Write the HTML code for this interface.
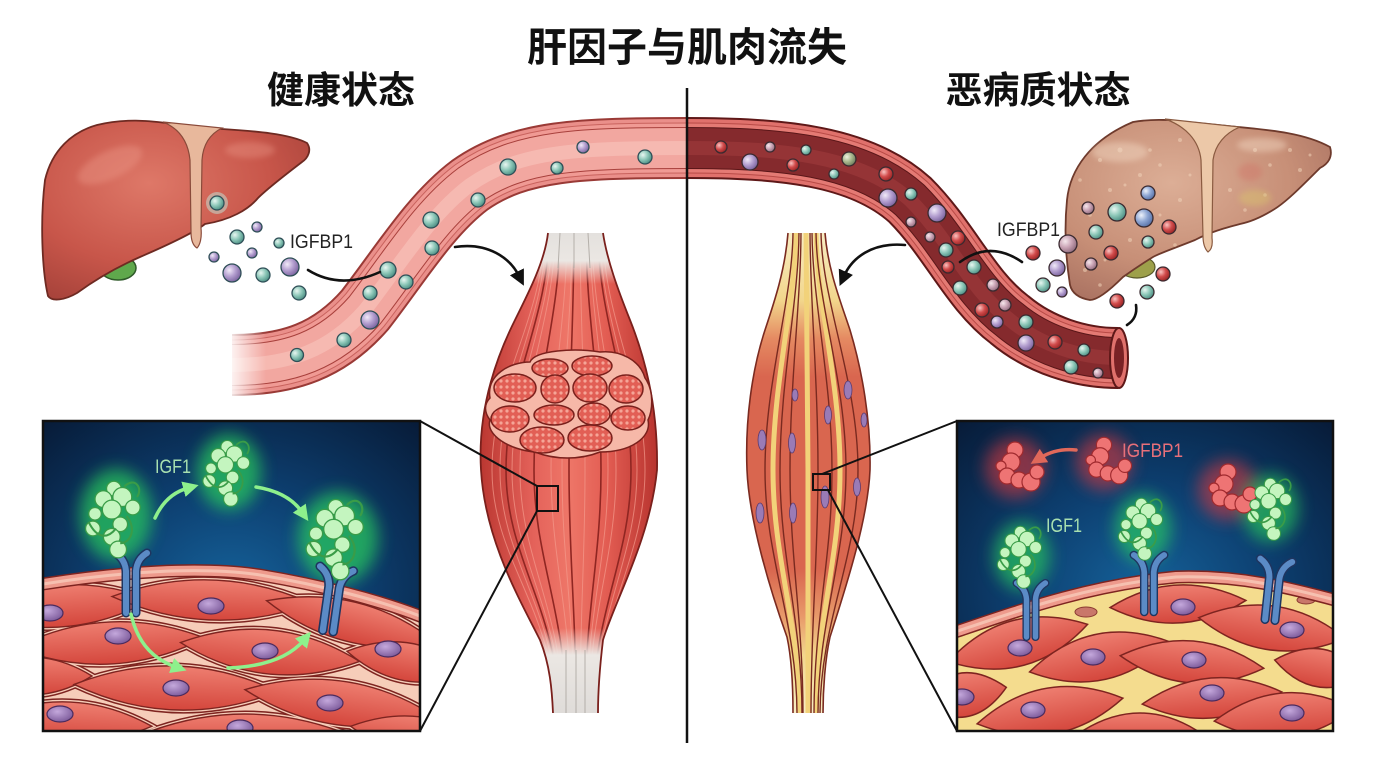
<!DOCTYPE html>
<html><head><meta charset="utf-8"><style>
html,body{margin:0;padding:0;background:#fff;}
svg{display:block;}
.cjk{font-family:"Liberation Sans","Noto Sans CJK SC",sans-serif;}
.lat{font-family:"Liberation Sans",sans-serif;}
</style></head><body>
<svg width="1376" height="768" viewBox="0 0 1376 768" xmlns="http://www.w3.org/2000/svg">
<defs>
<radialGradient id="gTeal" cx=".35" cy=".35" r=".7"><stop offset="0" stop-color="#e8f6f1"/><stop offset=".5" stop-color="#8ec8b9"/><stop offset="1" stop-color="#4a8d82"/></radialGradient>
<radialGradient id="gPurple" cx=".35" cy=".35" r=".7"><stop offset="0" stop-color="#f1eaf8"/><stop offset=".5" stop-color="#b39ecf"/><stop offset="1" stop-color="#7a629e"/></radialGradient>
<radialGradient id="gBlue" cx=".35" cy=".35" r=".7"><stop offset="0" stop-color="#eef2fa"/><stop offset=".5" stop-color="#8fa7d4"/><stop offset="1" stop-color="#5670a6"/></radialGradient>
<radialGradient id="gRed" cx=".35" cy=".35" r=".7"><stop offset="0" stop-color="#f9c4c2"/><stop offset=".5" stop-color="#d24c4c"/><stop offset="1" stop-color="#962222"/></radialGradient>
<radialGradient id="gPink" cx=".35" cy=".35" r=".7"><stop offset="0" stop-color="#f6e8ec"/><stop offset=".5" stop-color="#caa4b5"/><stop offset="1" stop-color="#8e6a7c"/></radialGradient>
<radialGradient id="gOlive" cx=".35" cy=".35" r=".7"><stop offset="0" stop-color="#eef2e0"/><stop offset=".5" stop-color="#a9b88e"/><stop offset="1" stop-color="#6a7a5a"/></radialGradient>
<radialGradient id="liverL" cx=".4" cy=".35" r=".75"><stop offset="0" stop-color="#de7868"/><stop offset=".6" stop-color="#c8564a"/><stop offset="1" stop-color="#a6423a"/></radialGradient>
<radialGradient id="liverR" cx=".4" cy=".35" r=".75"><stop offset="0" stop-color="#dcae96"/><stop offset=".6" stop-color="#c78f77"/><stop offset="1" stop-color="#a87060"/></radialGradient>
<linearGradient id="mL" x1="0" y1="0" x2="1" y2="0"><stop offset="0" stop-color="#bb3731"/><stop offset=".3" stop-color="#e4625a"/><stop offset=".5" stop-color="#ee7668"/><stop offset=".72" stop-color="#e25c52"/><stop offset="1" stop-color="#b8342f"/></linearGradient>
<linearGradient id="mR" x1="0" y1="0" x2="0" y2="1"><stop offset="0" stop-color="#f8edc4"/><stop offset=".14" stop-color="#f2d68c"/><stop offset=".22" stop-color="#e58a62"/><stop offset=".3" stop-color="#d9664f"/><stop offset=".7" stop-color="#d9664f"/><stop offset=".8" stop-color="#e89a6a"/><stop offset=".88" stop-color="#f2d68c"/><stop offset="1" stop-color="#f8edc4"/></linearGradient>
<linearGradient id="tTop" x1="0" y1="0" x2="0" y2="1"><stop offset="0" stop-color="#e2dfdc" stop-opacity="1"/><stop offset=".6" stop-color="#ebe7e3" stop-opacity="1"/><stop offset="1" stop-color="#ebe7e3" stop-opacity="0"/></linearGradient>
<linearGradient id="tBot" x1="0" y1="0" x2="0" y2="1"><stop offset="0" stop-color="#ebe7e3" stop-opacity="0"/><stop offset=".3" stop-color="#ebe7e3" stop-opacity="1"/><stop offset="1" stop-color="#dedbd8" stop-opacity="1"/></linearGradient>
<linearGradient id="fadeL" x1="0" y1="0" x2="1" y2="0"><stop offset="0" stop-color="#fff" stop-opacity="1"/><stop offset="1" stop-color="#fff" stop-opacity="0"/></linearGradient>
<radialGradient id="bgIn" cx=".5" cy=".55" r=".75"><stop offset="0" stop-color="#15629a"/><stop offset=".45" stop-color="#0d3f70"/><stop offset="1" stop-color="#071a36"/></radialGradient>
<linearGradient id="cellG" x1="0" y1="0" x2="0" y2="1"><stop offset="0" stop-color="#ee7e70"/><stop offset="1" stop-color="#d4463c"/></linearGradient>
<radialGradient id="nucG" cx=".4" cy=".35" r=".7"><stop offset="0" stop-color="#c4a8dc"/><stop offset="1" stop-color="#7a5898"/></radialGradient>
<pattern id="dots" width="6" height="6" patternUnits="userSpaceOnUse"><rect width="6" height="6" fill="#e25f55"/><circle cx="3" cy="3" r="1.6" fill="#f5a597"/></pattern>
<filter id="blur8" x="-60%" y="-60%" width="220%" height="220%"><feGaussianBlur stdDeviation="8"/></filter>
<filter id="blur3" x="-50%" y="-50%" width="200%" height="200%"><feGaussianBlur stdDeviation="3"/></filter>
<clipPath id="clipL"><rect x="43" y="421" width="377" height="310"/></clipPath>
<clipPath id="clipR"><rect x="957" y="421" width="376" height="310"/></clipPath>
<clipPath id="mLc"><path d="M 548 233 C 545 260, 530 290, 515 320 C 490 370, 478 420, 481 470 C 485 540, 520 600, 540 640 C 550 665, 552 690, 553 713 L 598 713 C 598 690, 600 665, 603 640 C 615 600, 650 540, 657 470 C 658 420, 650 370, 630 320 C 618 290, 607 260, 603 233 Z"/></clipPath>
<clipPath id="mRc"><path d="M 788 233 C 785 270, 775 300, 765 330 C 752 370, 745 420, 747 470 C 749 520, 770 590, 787 637 C 792 660, 793 690, 793 713 L 823 713 C 823 690, 825 660, 830 637 C 845 590, 868 520, 870 470 C 871 420, 862 370, 850 330 C 840 300, 828 270, 825 233 Z"/></clipPath>
<marker id="mB" viewBox="0 0 10 10" refX="3" refY="5" markerWidth="6" markerHeight="6" orient="auto"><path d="M0 0 L10 5 L0 10 Z" fill="#111"/></marker>
<marker id="mG" viewBox="0 0 10 10" refX="3" refY="5" markerWidth="4.5" markerHeight="4.5" orient="auto"><path d="M0 0 L10 5 L0 10 Z" fill="#8ef08c"/></marker>
<marker id="mRd" viewBox="0 0 10 10" refX="3" refY="5" markerWidth="4.5" markerHeight="4.5" orient="auto"><path d="M0 0 L10 5 L0 10 Z" fill="#e0685a"/></marker>
<g id="igf" fill="#c4f5bf" stroke="#3a9c48" stroke-width="1.2">
<circle cx="-2" cy="-28" r="7"/><circle cx="-12" cy="-18" r="8"/><circle cx="6" cy="-20" r="9"/><circle cx="16" cy="-10" r="7"/><circle cx="-4" cy="-8" r="9"/><circle cx="-20" cy="-4" r="6"/><circle cx="-22" cy="10" r="7"/><circle cx="4" cy="6" r="7"/><circle cx="-4" cy="18" r="8"/><circle cx="2" cy="30" r="8"/>
<path d="M -26 4 C -18 20, -8 20, 0 10 M 10 -2 C 20 10, 14 24, 4 24 M 8 -30 C 18 -40, 26 -28, 20 -20" fill="none" stroke-width="2"/>
</g>
<g id="bp" fill="#ee7474" stroke="#a02a2e" stroke-width="1.2">
<circle cx="0" cy="-18" r="8"/><circle cx="-4" cy="-6" r="9"/><circle cx="-14" cy="-2" r="5"/><circle cx="-8" cy="8" r="8"/><circle cx="4" cy="12" r="8"/><circle cx="16" cy="14" r="9"/><circle cx="22" cy="4" r="7"/>
</g>
<g id="rec" fill="none" stroke-linecap="round">
<path d="M -5 0 L -5 -42 Q -6 -54 -16 -60 M 5 0 L 5 -42 Q 6 -54 16 -60" stroke="#1e3560" stroke-width="9"/>
<path d="M -5 0 L -5 -42 Q -6 -54 -16 -60 M 5 0 L 5 -42 Q 6 -54 16 -60" stroke="#5b8bc6" stroke-width="6"/>
</g>
<g id="cellsL">
<path transform="translate(60 606) rotate(-4)" d="M-92 0 Q0 -42 92 0 Q0 42 -92 0Z"/>
<path transform="translate(212 600) rotate(2)" d="M-100 0 Q0 -40 100 0 Q0 40 -100 0Z"/>
<path transform="translate(352 622) rotate(14)" d="M-88 0 Q0 -40 88 0 Q0 40 -88 0Z"/>
<path transform="translate(110 643) rotate(-3)" d="M-95 0 Q0 -42 95 0 Q0 42 -95 0Z"/>
<path transform="translate(270 652) rotate(6)" d="M-90 0 Q0 -44 90 0 Q0 44 -90 0Z"/>
<path transform="translate(408 662) rotate(10)" d="M-62 0 Q0 -38 62 0 Q0 38 -62 0Z"/>
<path transform="translate(30 676) rotate(0)" d="M-62 0 Q0 -38 62 0 Q0 38 -62 0Z"/>
<path transform="translate(176 688) rotate(2)" d="M-102 0 Q0 -44 102 0 Q0 44 -102 0Z"/>
<path transform="translate(340 703) rotate(8)" d="M-96 0 Q0 -44 96 0 Q0 44 -96 0Z"/>
<path transform="translate(70 722) rotate(3)" d="M-82 0 Q0 -40 82 0 Q0 40 -82 0Z"/>
<path transform="translate(245 734) rotate(0)" d="M-102 0 Q0 -40 102 0 Q0 40 -102 0Z"/>
<path transform="translate(420 736) rotate(8)" d="M-70 0 Q0 -38 70 0 Q0 38 -70 0Z"/>
</g>
<g id="cellsR">
<path transform="translate(1018 643) rotate(-15)" d="M-72 0 Q0 -46 72 0 Q0 46 -72 0Z"/>
<path transform="translate(1100 657) rotate(-12)" d="M-72 0 Q0 -46 72 0 Q0 46 -72 0Z"/>
<path transform="translate(1178 604) rotate(-3)" d="M-68 0 Q0 -38 68 0 Q0 38 -68 0Z"/>
<path transform="translate(1272 628) rotate(8)" d="M-74 0 Q0 -44 74 0 Q0 44 -74 0Z"/>
<path transform="translate(1192 662) rotate(5)" d="M-72 0 Q0 -42 72 0 Q0 42 -72 0Z"/>
<path transform="translate(1212 698) rotate(-5)" d="M-70 0 Q0 -40 70 0 Q0 40 -70 0Z"/>
<path transform="translate(1050 711) rotate(-10)" d="M-74 0 Q0 -46 74 0 Q0 46 -74 0Z"/>
<path transform="translate(963 695) rotate(-10)" d="M-44 0 Q0 -44 44 0 Q0 44 -44 0Z"/>
<path transform="translate(1284 715) rotate(-5)" d="M-70 0 Q0 -44 70 0 Q0 44 -70 0Z"/>
<path transform="translate(1320 668) rotate(10)" d="M-46 0 Q0 -38 46 0 Q0 38 -46 0Z"/>
<path transform="translate(1140 730) rotate(0)" d="M-56 0 Q0 -34 56 0 Q0 34 -56 0Z"/>
</g>
</defs>

<rect width="1376" height="768" fill="#fff"/>

<!-- LEFT VESSEL -->
<g fill="none" stroke-linecap="butt">
<path d="M 232 365 C 290 365, 330 350, 365 310 C 400 265, 430 215, 470 185 C 520 150, 580 148, 690 148" stroke="#9a3a36" stroke-width="62"/>
<path d="M 232 365 C 290 365, 330 350, 365 310 C 400 265, 430 215, 470 185 C 520 150, 580 148, 690 148" stroke="#ea8f8a" stroke-width="58"/>
<path d="M 232 365 C 290 365, 330 350, 365 310 C 400 265, 430 215, 470 185 C 520 150, 580 148, 690 148" stroke="#c8625d" stroke-width="51"/>
<path d="M 232 365 C 290 365, 330 350, 365 310 C 400 265, 430 215, 470 185 C 520 150, 580 148, 690 148" stroke="#f09a94" stroke-width="49"/>
<path d="M 232 365 C 290 365, 330 350, 365 310 C 400 265, 430 215, 470 185 C 520 150, 580 148, 690 148" stroke="#a8403c" stroke-width="42"/>
<path d="M 232 365 C 290 365, 330 350, 365 310 C 400 265, 430 215, 470 185 C 520 150, 580 148, 690 148" stroke="#f2a7a0" stroke-width="40"/>
<path d="M 232 365 C 290 365, 330 350, 365 310 C 400 265, 430 215, 470 185 C 520 150, 580 148, 690 148" stroke="#f8c4bc" stroke-width="14" opacity=".6"/>
</g>
<rect x="226" y="320" width="40" height="95" fill="url(#fadeL)"/>

<!-- RIGHT VESSEL -->
<g fill="none" stroke-linecap="butt">
<path d="M 686 148 C 780 148, 860 155, 910 200 C 950 240, 970 290, 1010 320 C 1040 345, 1080 358, 1118 358" stroke="#5e1818" stroke-width="62"/>
<path d="M 686 148 C 780 148, 860 155, 910 200 C 950 240, 970 290, 1010 320 C 1040 345, 1080 358, 1118 358" stroke="#e0716c" stroke-width="58"/>
<path d="M 686 148 C 780 148, 860 155, 910 200 C 950 240, 970 290, 1010 320 C 1040 345, 1080 358, 1118 358" stroke="#b84a46" stroke-width="51"/>
<path d="M 686 148 C 780 148, 860 155, 910 200 C 950 240, 970 290, 1010 320 C 1040 345, 1080 358, 1118 358" stroke="#e47a74" stroke-width="49"/>
<path d="M 686 148 C 780 148, 860 155, 910 200 C 950 240, 970 290, 1010 320 C 1040 345, 1080 358, 1118 358" stroke="#5a1618" stroke-width="42"/>
<path d="M 686 148 C 780 148, 860 155, 910 200 C 950 240, 970 290, 1010 320 C 1040 345, 1080 358, 1118 358" stroke="#852a2d" stroke-width="40"/>
<path d="M 686 148 C 780 148, 860 155, 910 200 C 950 240, 970 290, 1010 320 C 1040 345, 1080 358, 1118 358" stroke="#a23c3e" stroke-width="14" opacity=".55"/>
</g>
<ellipse cx="1119" cy="358" rx="9" ry="30" fill="#e0716c" stroke="#5e1818" stroke-width="2"/>
<ellipse cx="1119" cy="358" rx="5" ry="20" fill="#7a2225"/>

<!-- LEFT MUSCLE -->
<path d="M 548 233 C 545 260, 530 290, 515 320 C 490 370, 478 420, 481 470 C 485 540, 520 600, 540 640 C 550 665, 552 690, 553 713 L 598 713 C 598 690, 600 665, 603 640 C 615 600, 650 540, 657 470 C 658 420, 650 370, 630 320 C 618 290, 607 260, 603 233 Z" fill="url(#mL)"/>
<g clip-path="url(#mLc)" fill="none">
<g stroke="#f49a8c" stroke-width="1" opacity=".7">
<path d="M 544 230 C 544 320, 492 380, 492 470 C 492 560, 555 610, 555 715"/>
<path d="M 555 230 C 555 320, 520 380, 520 470 C 520 560, 563 610, 563 715"/>
<path d="M 567 230 C 567 320, 551 380, 551 470 C 551 560, 571 610, 571 715"/>
<path d="M 580 230 C 580 320, 585 380, 585 470 C 585 560, 580 610, 580 715"/>
<path d="M 592 230 C 592 320, 616 380, 616 470 C 616 560, 589 610, 589 715"/>
<path d="M 603 230 C 603 320, 645 380, 645 470 C 645 560, 597 610, 597 715"/>
<path d="M 552 230 C 552 320, 512 380, 512 470 C 512 560, 561 610, 561 715"/>
<path d="M 572 230 C 572 320, 562 380, 562 470 C 562 560, 574 610, 574 715"/>
<path d="M 590 230 C 590 320, 608 380, 608 470 C 608 560, 587 610, 587 715"/>
<path d="M 546 230 C 546 320, 500 380, 500 470 C 500 560, 557 610, 557 715"/>
<path d="M 600 230 C 600 320, 637 380, 637 470 C 637 560, 595 610, 595 715"/>
</g>
<g stroke="#8f2622" stroke-width="1.6">
<path d="M 549 230 C 549 320, 506 380, 506 470 C 506 560, 559 610, 559 715"/>
<path d="M 560 230 C 560 320, 534 380, 534 470 C 534 560, 566 610, 566 715"/>
<path d="M 574 230 C 574 320, 569 380, 569 470 C 569 560, 576 610, 576 715"/>
<path d="M 586 230 C 586 320, 601 380, 601 470 C 601 560, 585 610, 585 715"/>
<path d="M 598 230 C 598 320, 631 380, 631 470 C 631 560, 593 610, 593 715"/>
</g>
<rect x="470" y="226" width="200" height="58" fill="url(#tTop)"/>
<rect x="470" y="628" width="200" height="90" fill="url(#tBot)"/>
<g stroke="#a8a29c" stroke-width="1" opacity=".8">
<path d="M 560 233 L 558 268 M 574 233 L 574 268 M 588 233 L 590 268"/>
<path d="M 566 650 L 566 713 M 576 650 L 576 713 M 585 650 L 585 713"/>
</g>
</g>
<path d="M 548 233 C 545 260, 530 290, 515 320 C 490 370, 478 420, 481 470 C 485 540, 520 600, 540 640 C 550 665, 552 690, 553 713 M 598 713 C 598 690, 600 665, 603 640 C 615 600, 650 540, 657 470 C 658 420, 650 370, 630 320 C 618 290, 607 260, 603 233" fill="none" stroke="#7a201c" stroke-width="1.8"/>
<g stroke="#7a201c" stroke-width="1.5">
<path d="M 490 398 C 486 375, 510 362, 530 362 C 535 350, 575 348, 600 352 C 620 350, 640 360, 645 378 C 655 392, 652 412, 648 420 C 652 438, 630 452, 600 452 C 580 460, 555 460, 535 452 C 510 450, 485 435, 490 420 C 484 412, 484 404, 490 398 Z" fill="#f6b8a8"/>
<g fill="url(#dots)">
<ellipse cx="550" cy="368" rx="18" ry="9"/>
<ellipse cx="592" cy="366" rx="20" ry="10"/>
<ellipse cx="515" cy="388" rx="21" ry="14"/>
<ellipse cx="555" cy="389" rx="14" ry="14"/>
<ellipse cx="590" cy="388" rx="17" ry="14"/>
<ellipse cx="626" cy="389" rx="17" ry="14"/>
<ellipse cx="510" cy="419" rx="19" ry="13"/>
<ellipse cx="554" cy="415" rx="20" ry="10"/>
<ellipse cx="594" cy="414" rx="16" ry="11"/>
<ellipse cx="628" cy="418" rx="17" ry="12"/>
<ellipse cx="542" cy="440" rx="22" ry="13"/>
<ellipse cx="590" cy="438" rx="22" ry="13"/>
</g>
</g>
<rect x="537" y="486" width="21" height="25" fill="none" stroke="#111" stroke-width="2"/>

<!-- RIGHT MUSCLE -->
<path d="M 788 233 C 785 270, 775 300, 765 330 C 752 370, 745 420, 747 470 C 749 520, 770 590, 787 637 C 792 660, 793 690, 793 713 L 823 713 C 823 690, 825 660, 830 637 C 845 590, 868 520, 870 470 C 871 420, 862 370, 850 330 C 840 300, 828 270, 825 233 Z" fill="url(#mR)"/>
<g clip-path="url(#mRc)" fill="none">
<g stroke="#f2d27a" stroke-width="5">
<path d="M 796 230 C 796 300, 773 380, 773 470 C 773 560, 799 620, 799 715"/>
<path d="M 806 230 C 806 300, 808 380, 808 470 C 808 560, 808 620, 808 715"/>
<path d="M 816 230 C 816 300, 840 380, 840 470 C 840 560, 816 620, 816 715"/>
</g>
<g stroke="#7a2a20" stroke-width="1.4">
<path d="M 793 230 C 793 300, 765 380, 765 470 C 765 560, 797 620, 797 715"/>
<path d="M 801 230 C 801 300, 790 380, 790 470 C 790 560, 803 620, 803 715"/>
<path d="M 810 230 C 810 300, 818 380, 818 470 C 818 560, 811 620, 811 715"/>
<path d="M 816 230 C 816 300, 846 380, 846 470 C 846 560, 818 620, 818 715"/>
<path d="M 821 230 C 821 300, 858 380, 858 470 C 858 560, 820 620, 820 715"/>
<path d="M 799 230 C 799 300, 780 380, 780 470 C 780 560, 802 620, 802 715"/>
<path d="M 812 230 C 812 300, 832 380, 832 470 C 832 560, 814 620, 814 715"/>
</g>
<g fill="#9a7bb6" stroke="#5a3a70" stroke-width=".8">
<ellipse cx="795" cy="395" rx="3" ry="6"/>
<ellipse cx="762" cy="440" rx="4" ry="10"/>
<ellipse cx="792" cy="443" rx="3.5" ry="10"/>
<ellipse cx="828" cy="415" rx="3.5" ry="9"/>
<ellipse cx="848" cy="390" rx="4" ry="9"/>
<ellipse cx="857" cy="487" rx="3.5" ry="9"/>
<ellipse cx="760" cy="513" rx="4" ry="10"/>
<ellipse cx="793" cy="513" rx="3.5" ry="10"/>
<ellipse cx="825" cy="497" rx="4" ry="11"/>
<ellipse cx="864" cy="420" rx="3" ry="7"/>
</g>
</g>
<path d="M 788 233 C 785 270, 775 300, 765 330 C 752 370, 745 420, 747 470 C 749 520, 770 590, 787 637 C 792 660, 793 690, 793 713 M 823 713 C 823 690, 825 660, 830 637 C 845 590, 868 520, 870 470 C 871 420, 862 370, 850 330 C 840 300, 828 270, 825 233" fill="none" stroke="#7a2a20" stroke-width="1.6"/>
<rect x="813" y="474" width="17" height="16" fill="none" stroke="#111" stroke-width="2"/>

<!-- LEFT LIVER -->
<ellipse cx="118" cy="268" rx="18" ry="12" fill="#5fa84c" stroke="#2f5a2a" stroke-width="1.5"/>
<path d="M 97 125 C 125 118, 150 121, 167 123 L 222 129 C 255 131, 290 134, 307 143 C 312 150, 308 158, 302 162 C 285 175, 268 188, 258 198 C 248 210, 230 220, 205 224 C 195 232, 170 244, 140 257 C 115 268, 95 280, 77 293 C 65 300, 52 302, 48 296 C 42 270, 40 220, 45 180 C 52 150, 72 132, 97 125 Z" fill="url(#liverL)" stroke="#6e2a22" stroke-width="1.8"/>
<ellipse cx="110" cy="165" rx="35" ry="14" fill="#f0a090" opacity=".35" filter="url(#blur3)" transform="rotate(-25 110 165)"/>
<ellipse cx="250" cy="150" rx="25" ry="8" fill="#f0a090" opacity=".35" filter="url(#blur3)"/>
<path d="M 163 122 L 222 128 C 210 134, 203 145, 202 160 L 201 228 C 202 238, 200 245, 197 248 C 192 245, 191 238, 191 232 L 190 160 C 188 140, 178 128, 163 122 Z" fill="#e8b89c" stroke="#8a4a3a" stroke-width="1.2"/>

<!-- RIGHT LIVER -->
<ellipse cx="1137" cy="267" rx="18" ry="11" fill="#9da04a" stroke="#5a5a2a" stroke-width="1.2"/>
<path d="M 1133 122 C 1150 119, 1160 120, 1168 120 L 1238 127 C 1270 130, 1305 133, 1330 147 C 1333 157, 1328 164, 1320 168 C 1300 188, 1285 203, 1273 210 C 1260 218, 1250 222, 1240 224 C 1225 228, 1210 232, 1195 240 C 1175 248, 1160 253, 1153 257 C 1140 265, 1130 272, 1123 277 C 1110 290, 1098 300, 1090 300 C 1078 298, 1072 293, 1070 285 C 1066 260, 1064 230, 1067 200 C 1070 170, 1090 140, 1133 122 Z" fill="url(#liverR)" stroke="#6e3a2c" stroke-width="1.8"/>
<g fill="#f0d2b8" opacity=".55">
<circle cx="1100" cy="160" r="2"/><circle cx="1120" cy="150" r="2.5"/><circle cx="1140" cy="175" r="2"/><circle cx="1160" cy="165" r="1.8"/><circle cx="1180" cy="140" r="2"/><circle cx="1110" cy="190" r="2"/><circle cx="1090" cy="215" r="1.8"/><circle cx="1180" cy="200" r="2"/><circle cx="1175" cy="245" r="1.8"/><circle cx="1130" cy="240" r="2"/><circle cx="1255" cy="150" r="2"/><circle cx="1270" cy="165" r="1.8"/><circle cx="1290" cy="150" r="2"/><circle cx="1230" cy="190" r="2"/><circle cx="1265" cy="195" r="1.8"/><circle cx="1300" cy="170" r="2"/><circle cx="1245" cy="210" r="1.8"/><circle cx="1085" cy="270" r="2"/><circle cx="1100" cy="285" r="1.8"/><circle cx="1125" cy="185" r="1.5"/><circle cx="1150" cy="150" r="1.8"/><circle cx="1190" cy="175" r="1.5"/><circle cx="1080" cy="180" r="1.8"/><circle cx="1105" cy="260" r="1.5"/><circle cx="1160" cy="215" r="1.5"/><circle cx="1310" cy="155" r="1.5"/>
</g>
<ellipse cx="1120" cy="152" rx="28" ry="10" fill="#f4dcc6" opacity=".45" filter="url(#blur3)"/>
<ellipse cx="1262" cy="145" rx="25" ry="7" fill="#f4dcc6" opacity=".45" filter="url(#blur3)"/>
<ellipse cx="1250" cy="172" rx="12" ry="9" fill="#d06a60" opacity=".35" filter="url(#blur3)"/>
<ellipse cx="1255" cy="198" rx="16" ry="8" fill="#d8c070" opacity=".5" filter="url(#blur3)"/>
<path d="M 1165 119 L 1240 127 C 1225 133, 1215 145, 1213 160 L 1212 238 C 1213 246, 1211 250, 1208 252 C 1204 248, 1203 242, 1203 236 L 1201 160 C 1199 140, 1185 126, 1165 119 Z" fill="#ecc8a8" stroke="#8a5a40" stroke-width="1.2"/>

<!-- DOTS LEFT -->
<g stroke="#2f4f57" stroke-width="1.3">
<circle cx="217" cy="203" r="11" fill="#bfe8dc" opacity=".5" stroke="none"/>
<g fill="url(#gTeal)">
<circle cx="297" cy="355" r="6.5"/><circle cx="344" cy="340" r="7"/><circle cx="370" cy="293" r="7"/><circle cx="388" cy="270" r="8"/><circle cx="406" cy="282" r="7"/><circle cx="431" cy="220" r="8"/><circle cx="432" cy="248" r="7"/><circle cx="478" cy="200" r="7"/><circle cx="508" cy="167" r="8"/><circle cx="557" cy="168" r="6"/><circle cx="645" cy="157" r="7"/>
<circle cx="217" cy="203" r="7"/><circle cx="237" cy="237" r="7"/><circle cx="279" cy="243" r="5"/><circle cx="263" cy="275" r="7"/><circle cx="299" cy="293" r="7"/>
</g>
<g fill="url(#gPurple)">
<circle cx="370" cy="320" r="9"/><circle cx="583" cy="147" r="6"/>
<circle cx="257" cy="227" r="5"/><circle cx="252" cy="253" r="5"/><circle cx="214" cy="257" r="5"/><circle cx="232" cy="273" r="9"/><circle cx="290" cy="267" r="9"/>
</g>
</g>

<!-- DOTS RIGHT -->
<g stroke="#3a2a30" stroke-width="1.3">
<g fill="url(#gRed)">
<circle cx="721" cy="147" r="6"/><circle cx="793" cy="165" r="6"/><circle cx="886" cy="174" r="7"/><circle cx="958" cy="238" r="7"/><circle cx="948" cy="267" r="6"/><circle cx="982" cy="310" r="7"/><circle cx="1055" cy="342" r="7"/>
<circle cx="1169" cy="227" r="7"/><circle cx="1111" cy="253" r="7"/><circle cx="1163" cy="274" r="7"/><circle cx="1117" cy="301" r="7"/><circle cx="1033" cy="253" r="7"/>
</g>
<g fill="url(#gPink)">
<circle cx="770" cy="147" r="5"/><circle cx="911" cy="222" r="5"/><circle cx="930" cy="237" r="5"/><circle cx="993" cy="285" r="6"/><circle cx="1005" cy="305" r="6"/><circle cx="1098" cy="373" r="5"/>
<circle cx="1088" cy="208" r="6"/><circle cx="1068" cy="244" r="9"/><circle cx="1091" cy="264" r="6"/>
</g>
<g fill="url(#gPurple)">
<circle cx="750" cy="162" r="8"/><circle cx="888" cy="198" r="9"/><circle cx="937" cy="213" r="9"/><circle cx="997" cy="322" r="6"/><circle cx="1026" cy="343" r="8"/>
<circle cx="1057" cy="268" r="8"/><circle cx="1062" cy="292" r="5"/>
</g>
<g fill="url(#gTeal)">
<circle cx="806" cy="150" r="5"/><circle cx="834" cy="174" r="5"/><circle cx="911" cy="194" r="6"/><circle cx="946" cy="250" r="7"/><circle cx="974" cy="267" r="7"/><circle cx="960" cy="288" r="7"/><circle cx="1026" cy="322" r="7"/><circle cx="1084" cy="350" r="6"/><circle cx="1071" cy="367" r="7"/>
<circle cx="1117" cy="212" r="9"/><circle cx="1096" cy="232" r="7"/><circle cx="1148" cy="242" r="6"/><circle cx="1147" cy="292" r="7"/><circle cx="1043" cy="285" r="7"/>
</g>
<g fill="url(#gOlive)"><circle cx="849" cy="159" r="7"/></g>
<g fill="url(#gBlue)">
<circle cx="1148" cy="193" r="7"/><circle cx="1144" cy="218" r="9"/>
</g>
</g>

<!-- curves & arrows -->
<g fill="none" stroke="#111" stroke-width="2.6" stroke-linecap="round">
<path d="M 308 270 Q 340 290 380 272"/>
<path d="M 960 262 Q 990 240 1022 262"/>
<path d="M 1127 325 Q 1138 318 1136 305"/>
<path d="M 455 247 C 488 242, 510 258, 519 276" marker-end="url(#mB)"/>
<path d="M 905 245 C 872 242, 852 258, 844 276" marker-end="url(#mB)"/>
</g>

<!-- LEFT INSET -->
<g clip-path="url(#clipL)">
<rect x="43" y="421" width="377" height="310" fill="url(#bgIn)"/>
<ellipse cx="116" cy="515" rx="36" ry="46" fill="#2ee85a" opacity=".6" filter="url(#blur8)"/>
<ellipse cx="229" cy="472" rx="32" ry="38" fill="#2ee85a" opacity=".6" filter="url(#blur8)"/>
<ellipse cx="338" cy="538" rx="40" ry="46" fill="#2ee85a" opacity=".6" filter="url(#blur8)"/>
<path d="M 43 584 C 120 572, 200 566, 260 575 C 320 585, 380 600, 425 618 L 425 735 L 43 735 Z" fill="#f6cdb9"/>
<use href="#cellsL" fill="none" stroke="#7e2420" stroke-width="7"/>
<use href="#cellsL" fill="none" stroke="#f6cdb9" stroke-width="4"/>
<use href="#cellsL" fill="url(#cellG)" stroke="#7e2420" stroke-width="1.4"/>
<path d="M 43 584 C 120 572, 200 566, 260 575 C 320 585, 380 600, 425 618" fill="none" stroke="#7e2420" stroke-width="13"/>
<path d="M 43 584 C 120 572, 200 566, 260 575 C 320 585, 380 600, 425 618" fill="none" stroke="#ee9a8c" stroke-width="10"/>
<path d="M 43 584 C 120 572, 200 566, 260 575 C 320 585, 380 600, 425 618" fill="none" stroke="#f6c0b0" stroke-width="3"/>
<g fill="url(#nucG)" stroke="#4b2b5e" stroke-width="1.2">
<ellipse cx="50" cy="613" rx="13" ry="8"/><ellipse cx="211" cy="606" rx="13" ry="8"/><ellipse cx="118" cy="636" rx="13" ry="8"/><ellipse cx="265" cy="651" rx="13" ry="8"/><ellipse cx="388" cy="649" rx="13" ry="8"/><ellipse cx="176" cy="688" rx="13" ry="8"/><ellipse cx="330" cy="703" rx="13" ry="8"/><ellipse cx="60" cy="714" rx="13" ry="8"/><ellipse cx="240" cy="728" rx="13" ry="8"/>
</g>
<use href="#rec" transform="translate(131 613)"/>
<use href="#rec" transform="translate(328 631) rotate(8) scale(1.05)"/>
<use href="#igf" transform="translate(116 518) scale(1.05)"/>
<use href="#igf" transform="translate(229 472) scale(.9)"/>
<use href="#igf" transform="translate(338 538) scale(1.1)"/>
<g fill="none" stroke="#8ef08c" stroke-width="3.5" stroke-linecap="round">
<path d="M 155 518 Q 166 494 188 488" marker-end="url(#mG)"/>
<path d="M 256 487 Q 288 492 302 512" marker-end="url(#mG)"/>
<path d="M 131 614 Q 140 655 176 667" marker-end="url(#mG)"/>
<path d="M 228 668 Q 282 666 304 640" marker-end="url(#mG)"/>
</g>
<text x="155" y="473" class="lat" font-size="19" fill="#a8e0b0" textLength="36" lengthAdjust="spacingAndGlyphs">IGF1</text>
</g>
<rect x="43" y="421" width="377" height="310" fill="none" stroke="#111" stroke-width="2.5"/>

<!-- RIGHT INSET -->
<g clip-path="url(#clipR)">
<rect x="957" y="421" width="376" height="310" fill="url(#bgIn)"/>
<ellipse cx="1015" cy="468" rx="30" ry="30" fill="#ff3a3a" opacity=".5" filter="url(#blur8)"/>
<ellipse cx="1104" cy="462" rx="28" ry="28" fill="#ff3a3a" opacity=".5" filter="url(#blur8)"/>
<ellipse cx="1228" cy="490" rx="30" ry="30" fill="#ff3a3a" opacity=".5" filter="url(#blur8)"/>
<ellipse cx="1022" cy="556" rx="28" ry="34" fill="#2ee85a" opacity=".55" filter="url(#blur8)"/>
<ellipse cx="1143" cy="528" rx="28" ry="34" fill="#2ee85a" opacity=".55" filter="url(#blur8)"/>
<ellipse cx="1270" cy="508" rx="28" ry="34" fill="#2ee85a" opacity=".55" filter="url(#blur8)"/>
<path d="M 955 632 C 1020 610, 1090 585, 1176 577 C 1240 575, 1290 588, 1335 600 L 1335 735 L 955 735 Z" fill="#f4dc8e"/>
<use href="#cellsR" fill="url(#cellG)" stroke="#7e2420" stroke-width="1.5"/>
<g fill="#c9776a" stroke="#8a3a30" stroke-width="1">
<ellipse cx="1086" cy="612" rx="11" ry="5"/><ellipse cx="1306" cy="600" rx="9" ry="4"/>
</g>
<path d="M 955 632 C 1020 610, 1090 585, 1176 577 C 1240 575, 1290 588, 1335 600" fill="none" stroke="#7e2420" stroke-width="13"/>
<path d="M 955 632 C 1020 610, 1090 585, 1176 577 C 1240 575, 1290 588, 1335 600" fill="none" stroke="#ee9a8c" stroke-width="10"/>
<path d="M 955 632 C 1020 610, 1090 585, 1176 577 C 1240 575, 1290 588, 1335 600" fill="none" stroke="#f6c0b0" stroke-width="3"/>
<g fill="url(#nucG)" stroke="#4b2b5e" stroke-width="1.2">
<ellipse cx="1020" cy="648" rx="12" ry="8"/><ellipse cx="1093" cy="657" rx="12" ry="8"/><ellipse cx="1194" cy="660" rx="12" ry="8"/><ellipse cx="1292" cy="630" rx="12" ry="8"/><ellipse cx="1183" cy="607" rx="12" ry="8"/><ellipse cx="1212" cy="693" rx="12" ry="8"/><ellipse cx="1033" cy="710" rx="12" ry="8"/><ellipse cx="962" cy="697" rx="12" ry="8"/><ellipse cx="1292" cy="713" rx="12" ry="8"/>
</g>
<use href="#rec" transform="translate(1031 637) scale(.9)"/>
<use href="#rec" transform="translate(1149 612) scale(.95)"/>
<use href="#rec" transform="translate(1270 620) rotate(6) scale(1)"/>
<use href="#bp" transform="translate(1015 468)"/>
<use href="#bp" transform="translate(1104 462) scale(.95)"/>
<use href="#bp" transform="translate(1228 490)"/>
<use href="#igf" transform="translate(1022 556) scale(.85)"/>
<use href="#igf" transform="translate(1143 528) scale(.85)"/>
<use href="#igf" transform="translate(1272 508) scale(.85)"/>
<path d="M 1076 450 Q 1056 448 1040 458" fill="none" stroke="#e0685a" stroke-width="3.5" stroke-linecap="round" marker-end="url(#mRd)"/>
<text x="1122" y="457" class="lat" font-size="19" fill="#e8707a" textLength="61" lengthAdjust="spacingAndGlyphs">IGFBP1</text>
<text x="1046" y="532" class="lat" font-size="19" fill="#a8e0b0" textLength="36" lengthAdjust="spacingAndGlyphs">IGF1</text>
</g>
<rect x="957" y="421" width="376" height="310" fill="none" stroke="#111" stroke-width="2.5"/>

<!-- zoom lines -->
<g stroke="#111" stroke-width="2" fill="none">
<path d="M 420 421 L 537 486"/>
<path d="M 420 731 L 537 511"/>
<path d="M 957 421 L 822 474"/>
<path d="M 957 731 L 828 490"/>
</g>

<!-- labels -->
<text x="290" y="248" class="lat" font-size="19" fill="#222" textLength="63" lengthAdjust="spacingAndGlyphs">IGFBP1</text>
<text x="997" y="236" class="lat" font-size="19" fill="#222" textLength="63" lengthAdjust="spacingAndGlyphs">IGFBP1</text>

<text x="687" y="61" text-anchor="middle" class="cjk" font-size="40" font-weight="bold" fill="#111">肝因子与肌肉流失</text>
<text x="341" y="103" text-anchor="middle" class="cjk" font-size="37" font-weight="bold" fill="#111">健康状态</text>
<text x="1038" y="103" text-anchor="middle" class="cjk" font-size="37" font-weight="bold" fill="#111">恶病质状态</text>

<line x1="687" y1="88" x2="687" y2="743" stroke="#111" stroke-width="2.5"/>
</svg>
</body></html>
